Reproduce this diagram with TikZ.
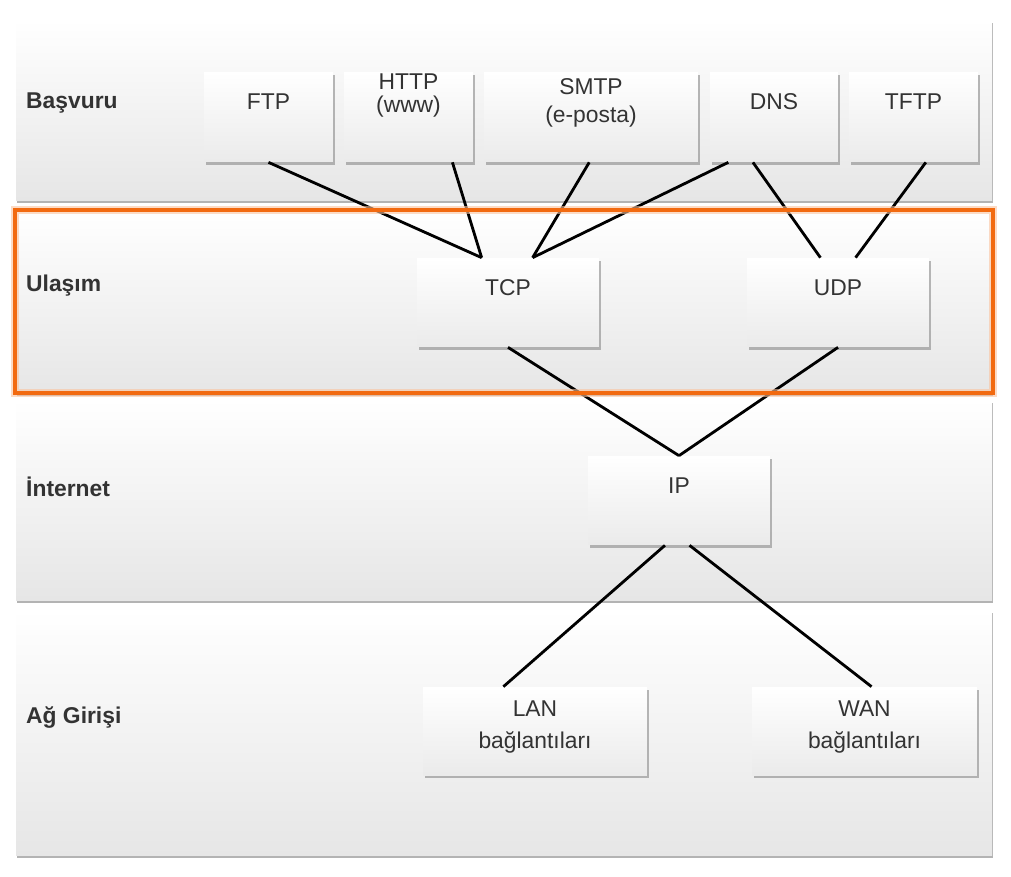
\documentclass[tikz,border=0pt]{standalone}
\usepackage{fontspec}
\setmainfont{Liberation Sans}
\usetikzlibrary{shadows}
\definecolor{bandgray}{HTML}{E6E6E6}
\definecolor{txtgray}{HTML}{333333}
\definecolor{hlorange}{HTML}{F26A10}
\tikzset{
  band/.style={draw=none, top color=white, bottom color=bandgray,
    drop shadow={shadow xshift=0.5pt, shadow yshift=-1.5pt, opacity=0.6}},
  box/.style={draw=none, top color=white, bottom color=white!92!black,
    drop shadow={shadow xshift=1pt, shadow yshift=-1.5pt, opacity=0.55},
    rectangle, align=center, font=\fontsize{13}{16}\selectfont, text=txtgray, inner sep=0pt},
  layer/.style={anchor=west, font=\fontsize{13}{16}\selectfont\bfseries, text=txtgray},
  link/.style={line width=1.6pt, black}
}
\begin{document}
\begin{tikzpicture}[x=0.02cm, y=-0.02cm]
  \useasboundingbox (0, 0) rectangle (1011, 876);

  % Layers
  \path [band] (16, 20) rectangle (992, 200);
  \path [band] (16, 210) rectangle (992, 393);
  \path [band] (16, 400) rectangle (992, 600);
  \path [band] (16, 610) rectangle (992, 855);
  \node [layer] (basvuru) at (20, 103) {Başvuru};
  \node [layer] (ulasim) at (20, 286) {Ulaşım};
  \node [layer] (internet) at (20, 487) {İnternet};
  \node [layer] (aggirisi) at (20, 718) {Ağ Girişi};

  % Application
  \node [box, minimum width=2.58cm, minimum height=1.8cm, text depth=0.6cm] (ftp) at (268.5, 117) {FTP};
  \node [box, minimum width=2.58cm, minimum height=1.8cm, text depth=0.95cm] (http) at (408.5, 117) {HTTP\\[-3pt](www)};
  \node [box, minimum width=4.28cm, minimum height=1.8cm, text depth=0.65cm] (smtp) at (591, 117) {SMTP\\(e-posta)};
  \node [box, minimum width=2.56cm, minimum height=1.8cm, text depth=0.6cm] (dns) at (774, 117) {DNS};
  \node [box, minimum width=2.58cm, minimum height=1.8cm, text depth=0.6cm] (tftp) at (913.5, 117) {TFTP};

  % Transport
  \node [box, minimum width=3.64cm, minimum height=1.78cm, text depth=0.6cm] (tcp) at (508, 302.5) {TCP};
  \node [box, minimum width=3.64cm, minimum height=1.78cm, text depth=0.6cm] (udp) at (838, 302.5) {UDP};

  % Internet
  \node [box, minimum width=3.64cm, minimum height=1.78cm, text depth=0.6cm] (ip) at (679, 500.5) {IP};

  % Network access
  \node [box, minimum width=4.48cm, minimum height=1.76cm, text depth=0.25cm] (lan) at (535, 731) {LAN\\[2pt]bağlantıları};
  \node [box, minimum width=4.5cm, minimum height=1.76cm, text depth=0.25cm] (wan) at (864.5, 731) {WAN\\[2pt]bağlantıları};

  % Edges
  \draw [link] (ftp.south) -- ([xshift=-15]tcp.north);
  \draw [link] ([xshift=25]http.south) -- ([xshift=-15]tcp.north);
  \draw [link] ([xshift=-1]smtp.south) -- ([xshift=14]tcp.north);
  \draw [link] ([xshift=-26]dns.south) -- ([xshift=14]tcp.north);
  \draw [link] ([xshift=-12]dns.south) -- ([xshift=-10]udp.north);
  \draw [link] ([xshift=7]tftp.south) -- ([xshift=10]udp.north);
  \draw [link] (tcp.south) -- (ip.north);
  \draw [link] (udp.south) -- (ip.north);
  \draw [link] ([xshift=-8]ip.south) -- ([xshift=-18]lan.north);
  \draw [link] ([xshift=6]ip.south) -- ([xshift=4]wan.north);

  % Highlight
  \draw [hlorange!40, line width=5pt, opacity=0.6] (15, 210) rectangle (993, 393);
  \draw [hlorange, line width=2.6pt] (15, 210) rectangle (993, 393);
\end{tikzpicture}
\end{document}
